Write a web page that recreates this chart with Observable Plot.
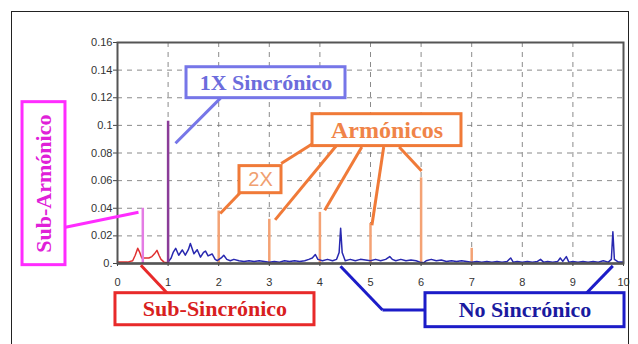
<!DOCTYPE html>
<html>
<head>
<meta charset="utf-8">
<script src="https://cdn.jsdelivr.net/npm/d3@7"></script>
<script src="https://cdn.jsdelivr.net/npm/@observablehq/plot@0.6"></script>
<style>
  html, body { margin: 0; padding: 0; background: #fff; }
  #wrap { position: relative; width: 638px; height: 344px; overflow: hidden; }
  #border { position: absolute; left: 11px; top: 11px; width: 618px; height: 360px; border: 1.5px solid #222; box-sizing: border-box; pointer-events: none; }
</style>
</head>
<body>
<div id="wrap"><div id="border"></div></div>
<script>
// ---- Data ----
// Sub-synchronous band (red), frequency in orders of running speed
const subSyncFreq = [0, 0.1, 0.2, 0.3, 0.35, 0.4, 0.44, 0.48, 0.55, 0.62, 0.68, 0.73, 0.78, 0.82, 0.86, 0.92, 1.0];
const subSyncAmp  = [0.001, 0.001, 0.001, 0.002, 0.006, 0.011, 0.008, 0.004, 0.004, 0.004, 0.005, 0.007, 0.0095, 0.006, 0.003, 0.001, 0.0005];

// Non-synchronous spectrum (blue)
const nonSyncFreq = [1.00, 1.06, 1.10, 1.15, 1.21, 1.28, 1.34, 1.40, 1.44, 1.51, 1.575, 1.64, 1.70, 1.74, 1.79, 1.87, 1.93, 1.97,
  2.05, 2.10, 2.16, 2.23, 2.30, 2.40, 2.50, 2.60, 2.70, 2.80, 2.90, 3.00, 3.10, 3.20, 3.30, 3.40, 3.50, 3.60, 3.70, 3.78, 3.85, 3.91, 3.96,
  4.05, 4.15, 4.25, 4.33, 4.38, 4.41, 4.44, 4.50, 4.60, 4.70, 4.80, 4.90, 5.00, 5.10, 5.20, 5.30, 5.38, 5.43, 5.50, 5.60, 5.70, 5.80, 5.90, 5.98,
  6.05, 6.10, 6.20, 6.30, 6.40, 6.50, 6.60, 6.70, 6.80, 6.90, 7.00, 7.10, 7.20, 7.30, 7.40, 7.50, 7.60, 7.70, 7.77, 7.82, 7.90,
  8.00, 8.10, 8.20, 8.30, 8.36, 8.42, 8.50, 8.60, 8.70, 8.75, 8.80, 8.87, 8.92, 9.00, 9.10, 9.20, 9.30, 9.40, 9.50, 9.60, 9.70, 9.76, 9.79, 9.82, 9.90, 10.0];
const nonSyncAmp = [0.001, 0.004, 0.008, 0.011, 0.006, 0.0098, 0.006, 0.010, 0.0145, 0.007, 0.010, 0.0046, 0.008, 0.009, 0.0055, 0.0069, 0.003, 0.002,
  0.004, 0.006, 0.003, 0.002, 0.003, 0.002, 0.0015, 0.002, 0.0015, 0.002, 0.0015, 0.001, 0.0015, 0.001, 0.002, 0.0015, 0.002, 0.0015, 0.002, 0.003, 0.004, 0.0065, 0.003,
  0.002, 0.003, 0.002, 0.003, 0.008, 0.0255, 0.008, 0.002, 0.003, 0.002, 0.003, 0.0025, 0.002, 0.003, 0.002, 0.003, 0.005, 0.003, 0.002, 0.003, 0.002, 0.0025, 0.002, 0.001,
  0.0005, 0.002, 0.003, 0.002, 0.0025, 0.0015, 0.002, 0.0015, 0.002, 0.0015, 0.001, 0.0015, 0.001, 0.0015, 0.001, 0.0015, 0.001, 0.0015, 0.004, 0.001, 0.0015,
  0.001, 0.0015, 0.001, 0.0015, 0.003, 0.001, 0.0015, 0.001, 0.0015, 0.004, 0.0015, 0.005, 0.001, 0.0015, 0.001, 0.0015, 0.001, 0.0015, 0.001, 0.002, 0.001, 0.003, 0.023, 0.003, 0.001, 0.001];

// Discrete peaks
const subHarmonicOrder = [0.5];  const subHarmonicAmp = [0.040];
const syncOrder = [1];           const syncAmp = [0.103];
const harmonicOrders = [2, 3, 4, 5, 6, 7];
const harmonicAmps   = [0.038, 0.032, 0.037, 0.029, 0.062, 0.011];

// Axis ticks
const xTickValues = [0, 1, 2, 3, 4, 5, 6, 7, 8, 9, 10];
const yTickValues = [0, 0.02, 0.04, 0.06, 0.08, 0.1, 0.12, 0.14, 0.16];
const yTickLabels = ["0.", "0.02", "0.04", "0.06", "0.08", "0.1", "0.12", "0.14", "0.16"];

// Annotation labels
const annotLabels = ["1X Sincrónico", "Armónicos", "2X", "Sub-Armónico", "Sub-Sincrónico", "No Sincrónico"];

// ---- Build tables ----
const subSync = subSyncFreq.map((f, i) => ({f, a: subSyncAmp[i]}));
const nonSync = nonSyncFreq.map((f, i) => ({f, a: nonSyncAmp[i]}));
const subHarm = subHarmonicOrder.map((f, i) => ({f, a: subHarmonicAmp[i]}));
const sync = syncOrder.map((f, i) => ({f, a: syncAmp[i]}));
const harm = harmonicOrders.map((f, i) => ({f, a: harmonicAmps[i]}));

// Annotation layout (in data units of the chart scales)
const boxes = [
  {label: annotLabels[0], x1: 1.364, x2: 4.506, y1: 0.1197, y2: 0.1421, stroke: "#7676e8", fill: "#6c6cdc", size: 22, weight: "bold", font: "Liberation Serif", rotate: 0},
  {label: annotLabels[1], x1: 3.854, x2: 6.798, y1: 0.0850, y2: 0.1081, stroke: "#f07a38", fill: "#f08448", size: 24, weight: "bold", font: "Liberation Serif", rotate: 0},
  {label: annotLabels[2], x1: 2.411, x2: 3.241, y1: 0.0509, y2: 0.0705, stroke: "#f07a38", fill: "#f0a070", size: 20, weight: "normal", font: "Liberation Sans", rotate: 0},
  {label: annotLabels[3], x1: -1.877, x2: -1.028, y1: -0.0012, y2: 0.1168, stroke: "#ff2cff", fill: "#e020d8", size: 22, weight: "bold", font: "Liberation Serif", rotate: -90},
  {label: annotLabels[4], x1: -0.040, x2: 3.893, y1: -0.0447, y2: -0.0215, stroke: "#e82a2a", fill: "#d82020", size: 22, weight: "bold", font: "Liberation Serif", rotate: 0},
  {label: annotLabels[5], x1: 6.087, x2: 10.02, y1: -0.0461, y2: -0.0215, stroke: "#1c1cc8", fill: "#1a1aa0", size: 22, weight: "bold", font: "Liberation Serif", rotate: 0}
];
const leaders = [
  {x1: 2.036, y1: 0.1197, x2: 1.146, y2: 0.0871, stroke: "#7676e8"},
  {x1: -1.028, y1: 0.0263, x2: 0.415, y2: 0.0371, stroke: "#ff2cff"},
  {x1: 4.32, y1: 0.0851, x2: 3.115, y2: 0.0316, stroke: "#f07a38"},
  {x1: 4.828, y1: 0.0844, x2: 4.095, y2: 0.0386, stroke: "#f07a38"},
  {x1: 5.261, y1: 0.0844, x2: 5.028, y2: 0.0277, stroke: "#f07a38"},
  {x1: 5.567, y1: 0.0844, x2: 6.01, y2: 0.067, stroke: "#f07a38"},
  {x1: 3.862, y1: 0.0869, x2: 3.235, y2: 0.0724, stroke: "#f07a38"},
  {x1: 2.415, y1: 0.0509, x2: 2.03, y2: 0.0362, stroke: "#f07a38"},
  {x1: 0.462, y1: -0.0012, x2: 0.984, y2: -0.0215, stroke: "#e82a2a"},
  {x1: 6.087, y1: -0.0337, x2: 5.237, y2: -0.0337, stroke: "#1c1cc8"},
  {x1: 5.237, y1: -0.0337, x2: 4.407, y2: -0.0020, stroke: "#1c1cc8"},
  {x1: 9.265, y1: -0.0215, x2: 9.789, y2: -0.0017, stroke: "#1c1cc8"}
];

const chart = Plot.plot({
  width: 638,
  height: 344,
  marginLeft: 117,
  marginRight: 15,
  marginTop: 42,
  marginBottom: 81,
  style: {fontFamily: "Liberation Sans, Arial, sans-serif", fontSize: "11px", color: "#333", background: "transparent", overflow: "visible"},
  x: {domain: [0, 10]},
  y: {domain: [0, 0.16]},
  marks: [
    Plot.gridX(xTickValues.slice(1, -1), {stroke: "#777", strokeOpacity: 0.85, strokeDasharray: "5,5", strokeWidth: 1}),
    Plot.gridY(yTickValues.slice(1, -1), {stroke: "#777", strokeOpacity: 0.85, strokeDasharray: "5,5", strokeWidth: 1}),
    Plot.axisX({ticks: xTickValues, tickSize: 3, tickPadding: 12, stroke: "#444", fill: "#333", fontSize: 11}),
    Plot.axisY({ticks: yTickValues, tickSize: 4, tickPadding: 1, tickFormat: (d) => yTickLabels[yTickValues.indexOf(d)], stroke: "#444", fill: "#333", fontSize: 11}),
    Plot.ruleX(harm, {x: "f", y1: 0, y2: "a", stroke: "#f4a274", strokeWidth: 2.5}),
    Plot.line(subSync, {x: "f", y: "a", stroke: "#e03030", strokeWidth: 1.5}),
    Plot.line(nonSync, {x: "f", y: "a", stroke: "#2828b0", strokeWidth: 1.5}),
    Plot.ruleX(subHarm, {x: "f", y1: 0, y2: "a", stroke: "#e47ce4", strokeWidth: 2.5}),
    Plot.ruleX(sync, {x: "f", y1: 0, y2: "a", stroke: "#8a3c98", strokeWidth: 2.5}),
    Plot.ruleY([0], {stroke: "#1a1a1a", strokeWidth: 2.2}),
    Plot.frame({stroke: "#555", strokeWidth: 2}),
    Plot.link(leaders, {x1: "x1", y1: "y1", x2: "x2", y2: "y2", stroke: "stroke", strokeWidth: 3}),
    Plot.rect(boxes, {x1: "x1", x2: "x2", y1: "y1", y2: "y2", fill: "white", stroke: "stroke", strokeWidth: 3}),
    ...boxes.map(b => Plot.text([b], {
      x: d => (d.x1 + d.x2) / 2, y: d => (d.y1 + d.y2) / 2, text: "label",
      fill: b.fill, fontSize: b.size, fontWeight: b.weight, fontFamily: b.font, rotate: b.rotate
    }))
  ]
});
document.getElementById("wrap").insertBefore(chart, document.getElementById("border"));
</script>
</body>
</html>
